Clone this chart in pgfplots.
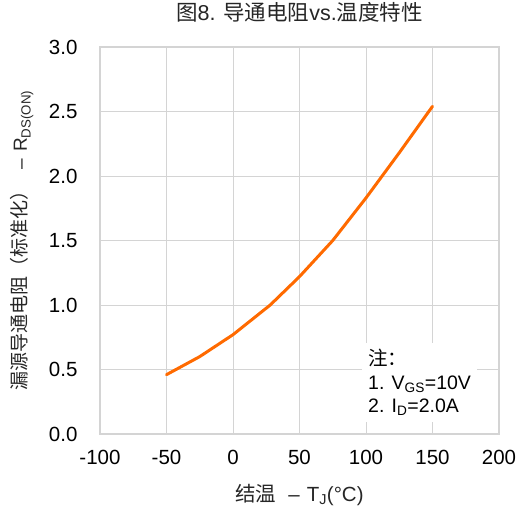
\documentclass[border=0pt]{standalone}
\usepackage{pgfplots}
\pgfplotsset{compat=1.18}
\usepackage{fontspec}
\setmainfont{Liberation Sans}
\newfontfamily\cjk{Noto Sans CJK SC}
\definecolor{curve}{HTML}{FF6A00}
\definecolor{gridc}{HTML}{D4D4D4}
\definecolor{titlec}{HTML}{262626}

\begin{document}
\begin{tikzpicture}
\begin{axis}[
  scale only axis, width=399pt, height=387pt,
  xmin=-100, xmax=200, ymin=0, ymax=3,
  xtick={-100,-50,...,200}, ytick={0,0.5,...,3},
  /pgf/number format/assume math mode=true,
  yticklabel style={/pgf/number format/fixed, /pgf/number format/fixed zerofill, /pgf/number format/precision=1, xshift=-19pt},
  grid=major, major grid style={gridc, line width=0.9pt},
  axis line style={gridc, line width=1.2pt},
  tick style={draw=none},
  ticklabel style={font=\fontsize{20.5}{24}\selectfont},
  xticklabel style={yshift=-13pt},
  title={{\cjk 图}8. {\cjk 导通电阻}vs.{\cjk 温度特性}},
  title style={font=\fontsize{21.5}{24}\selectfont, text=titlec, at={(axis description cs:0.5,1.075)}, anchor=center},
  xlabel={{\cjk 结温}\hspace{12pt}–\hspace{7pt}T\textsubscript{J}(°C)},
  xlabel style={font=\fontsize{20.5}{24}\selectfont, text=titlec, at={(axis description cs:0.5,-0.158)}, anchor=center},
  ylabel={{\cjk 漏源导通电阻（标准化）}\hspace{12pt}–\hspace{7pt}R\textsubscript{DS(ON)}},
  ylabel style={font=\fontsize{19}{24}\selectfont, text=titlec, at={(axis description cs:-0.1955,0.5)}, anchor=center},
]
\addplot[curve, line width=3pt, line join=round, line cap=round] coordinates {
  (-50,0.46) (-25,0.60) (0,0.77) (28,1.00) (50,1.22) (75,1.50) (100,1.83) (125,2.18) (150,2.54)
};
\node[fill=white, anchor=north west, align=left, inner sep=6pt,
  font=\fontsize{19.5}{23.5}\selectfont] at (axis cs:97,0.705)
  {{\cjk 注：}\\1. V\textsubscript{GS}=10V\\2. I\textsubscript{D}=2.0A};
\end{axis}
\pgfresetboundingbox
\path[use as bounding box] ([xshift=-100pt,yshift=-80pt]current axis.south west) rectangle ([xshift=28pt,yshift=47pt]current axis.north east);
\end{tikzpicture}
\end{document}
